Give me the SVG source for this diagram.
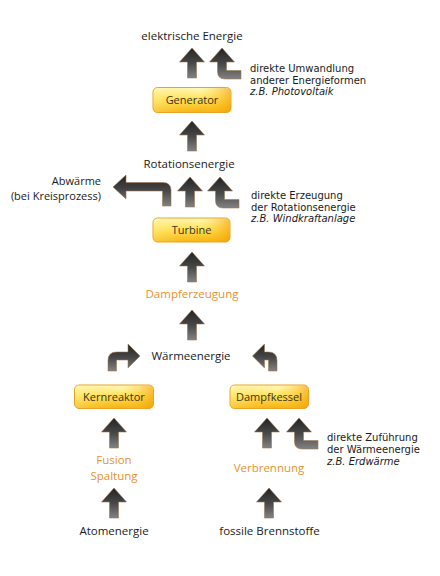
<svg xmlns="http://www.w3.org/2000/svg" xmlns:xlink="http://www.w3.org/1999/xlink" width="440" height="576" viewBox="0 0 440 576">
<style>
.t{font-family:"Open Sans","Noto Sans",sans-serif;font-size:11.5px;fill:#1a1a1a}
.o{font-family:"Open Sans","Noto Sans",sans-serif;font-size:11.5px;fill:#e8922e}
.s{font-family:"DejaVu Sans","Open Sans",sans-serif;font-size:10px;fill:#1a1a1a}
.i{font-style:italic}
.bt{font-family:"Open Sans","Noto Sans",sans-serif;font-size:11px;fill:#3a3320;text-anchor:middle}
.m{text-anchor:middle}
.box{fill:url(#boxg);stroke:#e9a227;stroke-width:1}
.boxo{fill:url(#boxh)}
.ar{fill:url(#arg);stroke:#9a7450;stroke-width:0.8;stroke-opacity:0.7}
</style>
<defs>
<linearGradient id="boxg" x1="0" y1="0" x2="0" y2="1">
<stop offset="0" stop-color="#fffbc4"/>
<stop offset="0.45" stop-color="#ffe45a"/>
<stop offset="1" stop-color="#f6b10c"/>
</linearGradient>
<linearGradient id="boxh" x1="0" y1="0" x2="1" y2="0">
<stop offset="0" stop-color="#fff3a0" stop-opacity="0.35"/>
<stop offset="0.6" stop-color="#ffd030" stop-opacity="0"/>
<stop offset="1" stop-color="#f39a00" stop-opacity="0.6"/>
</linearGradient>
<linearGradient id="arg" x1="0" y1="0" x2="0" y2="1">
<stop offset="0" stop-color="#232323"/>
<stop offset="0.5" stop-color="#474747"/>
<stop offset="1" stop-color="#828282"/>
</linearGradient>
<path id="up" d="M0,0 L12.5,14 L4.5,14 L4.5,30 L-4.5,30 L-4.5,14 L-12.5,14 Z"/>
<path id="bent" d="M0,0 L12.5,14 L4.5,14 L4.5,22.5 L19,22.5 L19,31 L3,31 Q-4.5,31 -4.5,23.5 L-4.5,14 L-12.5,14 Z"/>
</defs>

<g id="connectors">
<use xlink:href="#up" class="ar" x="192" y="48"/>
<use xlink:href="#bent" class="ar" x="222" y="48"/>
<use xlink:href="#up" class="ar" x="192" y="121"/>
<use xlink:href="#up" class="ar" x="190" y="177"/>
<use xlink:href="#bent" class="ar" x="220" y="177"/>
<path class="ar" d="M113,187 L126,175 L126,182.5 L163,182.5 Q171,182.5 171,190.5 L171,206 L162.5,206 L162.5,191 L126,191 L126,199 Z"/>
<use xlink:href="#up" class="ar" x="192" y="252"/>
<use xlink:href="#up" class="ar" x="192" y="310"/>
<path class="ar" d="M140,356 L128,344 L128,352 L116.5,352 Q108,352 108,360.5 L108,371 L116.5,371 L116.5,360 L128,360 L128,368 Z"/>
<path class="ar" d="M252.5,356 L264.5,344 L264.5,352 L268.5,352 Q277,352 277,360.5 L277,371 L268.5,371 L268.5,360 L264.5,360 L264.5,368 Z"/>
<use xlink:href="#up" class="ar" x="114" y="418"/>
<use xlink:href="#up" class="ar" x="267" y="418"/>
<use xlink:href="#bent" class="ar" x="299" y="418"/>
<use xlink:href="#up" class="ar" x="114" y="488"/>
<use xlink:href="#up" class="ar" x="269" y="488"/>
</g>

<g id="elektrische-energie"><text class="t m" x="192" y="40">elektrische Energie</text></g>
<g id="note-umwandlung">
<text class="s"><tspan x="250" y="71.8">direkte Umwandlung</tspan><tspan x="250" y="83.5">anderer Energieformen</tspan><tspan class="i" x="250" y="95.2">z.B. Photovoltaik</tspan></text>
</g>
<g id="generator">
<rect class="box" x="153" y="87.5" width="78" height="25" rx="4.5"/>
<rect class="boxo" x="153.5" y="88" width="77" height="24" rx="4"/>
<text class="bt" x="192" y="104">Generator</text>
</g>
<g id="rotationsenergie"><text class="t m" x="189" y="168">Rotationsenergie</text></g>
<g id="abwaerme">
<text class="t" text-anchor="end" style="font-size:11px"><tspan x="101" y="184.5">Abwärme</tspan><tspan x="101" y="199.6">(bei Kreisprozess)</tspan></text>
</g>
<g id="note-erzeugung">
<text class="s"><tspan x="251" y="198.8">direkte Erzeugung</tspan><tspan x="251" y="210.5">der Rotationsenergie</tspan><tspan class="i" x="251" y="222.2">z.B. Windkraftanlage</tspan></text>
</g>
<g id="turbine">
<rect class="box" x="153" y="218" width="77" height="24" rx="4.5"/>
<rect class="boxo" x="153.5" y="218.5" width="76" height="23" rx="4"/>
<text class="bt" x="191.5" y="234">Turbine</text>
</g>
<g id="dampferzeugung"><text class="o m" x="192" y="298">Dampferzeugung</text></g>
<g id="waermeenergie"><text class="t m" x="191" y="359.5">Wärmeenergie</text></g>
<g id="kernreaktor">
<rect class="box" x="74.5" y="385" width="79" height="23.5" rx="4.5"/>
<rect class="boxo" x="75" y="385.5" width="78" height="22.5" rx="4"/>
<text class="bt" x="114" y="400.5">Kernreaktor</text>
</g>
<g id="dampfkessel">
<rect class="box" x="230" y="385" width="78.5" height="23.5" rx="4.5"/>
<rect class="boxo" x="230.5" y="385.5" width="77.5" height="22.5" rx="4"/>
<text class="bt" x="269" y="400.5">Dampfkessel</text>
</g>
<g id="fusion-spaltung">
<text class="o m"><tspan x="114" y="463.9">Fusion</tspan><tspan x="114" y="479.7">Spaltung</tspan></text>
</g>
<g id="verbrennung"><text class="o m" x="269" y="471.5">Verbrennung</text></g>
<g id="note-zufuehrung">
<text class="s"><tspan x="327" y="441.3">direkte Zuführung</tspan><tspan x="327" y="453">der Wärmeenergie</tspan><tspan class="i" x="327" y="464.7">z.B. Erdwärme</tspan></text>
</g>
<g id="atomenergie"><text class="t m" x="114" y="535">Atomenergie</text></g>
<g id="fossile-brennstoffe"><text class="t m" x="269.5" y="535">fossile Brennstoffe</text></g>
</svg>
